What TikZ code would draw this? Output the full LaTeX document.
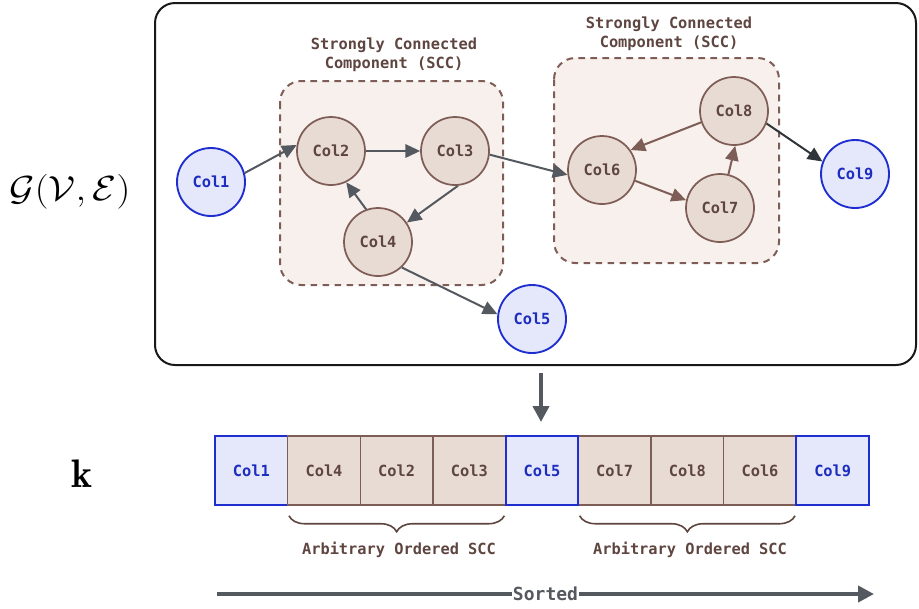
\documentclass[tikz,border=0pt]{standalone}
\usepackage{fontspec}
\setmonofont{DejaVu Sans Mono}
\usetikzlibrary{arrows.meta,decorations.pathreplacing,calc}
\definecolor{brownline}{HTML}{7D5D55}
\definecolor{browntext}{HTML}{5E4540}
\definecolor{nodefill}{HTML}{E8DBD4}
\definecolor{sccfill}{HTML}{F8F0EC}
\definecolor{blueline}{HTML}{1F2FCF}
\definecolor{bluefill}{HTML}{E5E7FB}
\definecolor{bluetext}{HTML}{1C2DC0}
\definecolor{grayarrow}{HTML}{545960}
\definecolor{darkarrow}{HTML}{30353B}
\tikzset{
  txt/.style={font=\ttfamily\bfseries\fontsize{11.5}{14}\selectfont},
  colnode/.style={circle, draw=brownline, fill=nodefill, line width=1.3pt, minimum size=51pt, inner sep=0pt, txt, text=browntext},
  bluenode/.style={circle, draw=blueline, fill=bluefill, line width=1.4pt, minimum size=51pt, inner sep=0pt, txt, text=bluetext},
  sccbox/.style={draw=brownline, fill=sccfill, dashed, dash pattern=on 5pt off 4pt, line width=1.5pt, rounded corners=16pt},
  scclabel/.style={txt, text=browntext, align=center},
  edge/.style={line width=1.5pt, -{Triangle[length=11pt,width=10pt]}},
  grayedge/.style={edge, draw=grayarrow},
  brownedge/.style={edge, draw=brownline},
  darkedge/.style={edge, draw=darkarrow},
  cellb/.style={rectangle, draw=brownline, fill=nodefill, line width=1.1pt, minimum width=54.5pt, minimum height=51.75pt, inner sep=0pt, txt, text=browntext},
  cellblue/.style={rectangle, draw=blueline, fill=bluefill, line width=1.5pt, minimum width=54.5pt, minimum height=51.75pt, inner sep=0pt, txt, text=bluetext},
  bracestyle/.style={draw=browntext, line width=1.2pt, decorate, decoration={brace, mirror, amplitude=12pt}},
  bigarrow/.style={draw=grayarrow, line width=3pt, -{Triangle[length=12pt,width=12pt]}},
}
\begin{document}
\begin{tikzpicture}[x=0.75pt, y=-0.75pt]
\useasboundingbox (0,0) rectangle (919,608);
% frame
\draw[draw=black!90, line width=1.5pt, rounded corners=15pt] (155,3) rectangle (916,365);
\node (glabel) at (70,192) {\scalebox{1.17}[1.05]{\fontsize{24.88}{28}\selectfont $\mathcal{G}(\mathcal{V},\mathcal{E})$}};
\node (klabel) at (82,474) {\scalebox{1.2}{\fontsize{24.88}{28}\selectfont $\mathbf{k}$}};
% SCC boxes
\draw[sccbox] (280,81) rectangle (503,285);
\draw[sccbox] (554,58) rectangle (779,263);
\node[scclabel] (scc1) at (394,55) {Strongly Connected\\Component (SCC)};
\node[scclabel] (scc2) at (669,34) {Strongly Connected\\Component (SCC)};
% nodes
\node[bluenode] (c1) at (211,182) {Col1};
\node[colnode] (c2) at (331,151) {Col2};
\node[colnode] (c3) at (455,151) {Col3};
\node[colnode] (c4) at (378,242) {Col4};
\node[bluenode] (c5) at (532,319) {Col5};
\node[colnode] (c6) at (602,170) {Col6};
\node[colnode] (c7) at (720,208) {Col7};
\node[colnode] (c8) at (734,111) {Col8};
\node[bluenode] (c9) at (855,174) {Col9};
% edges
\draw[grayedge] (c1.15) -- (c2.170);
\draw[grayedge] (c2) -- (c3);
\draw[grayedge] (c3.-85) -- (c4.34);
\draw[grayedge] (c4.110) -- (c2.-64);
\draw[grayedge] (c3.-6) -- (c6.188);
\draw[grayedge] (c4.-47) -- (c5.172);
\draw[brownedge] (c8.199) -- (c6.35);
\draw[brownedge] (c6.-18) -- (c7.167);
\draw[brownedge] (c7.76) -- (c8.-88);
\draw[darkedge] (c8.-21) -- (c9.159);
% down arrow
\coordinate (dstart) at (541,373);
\coordinate (dend) at (541,422);
\draw[bigarrow] (dstart) -- (dend);
% array
\node[cellblue] (a1) at (251.3,470.5) {Col1};
\node[cellb] (a2) at (324.0,470.5) {Col4};
\node[cellb] (a3) at (396.7,470.5) {Col2};
\node[cellb] (a4) at (469.3,470.5) {Col3};
\node[cellb] (a6) at (614.7,470.5) {Col7};
\node[cellb] (a7) at (687.3,470.5) {Col8};
\node[cellb] (a8) at (760.0,470.5) {Col6};
\node[cellblue] (a5) at (542.0,470.5) {Col5};
\node[cellblue] (a9) at (832.7,470.5) {Col9};
% braces
\draw[bracestyle] ($(a2.south west)+(2,10)$) -- ($(a4.south east)+(-2,10)$) coordinate[midway] (b1);
\draw[bracestyle] ($(a6.south west)+(2,10)$) -- ($(a8.south east)+(-2,10)$) coordinate[midway] (b2);
\node[txt, text=browntext] (arb1) at (399,550) {Arbitrary Ordered SCC};
\node[txt, text=browntext] (arb2) at (690,550) {Arbitrary Ordered SCC};
% sorted arrow
\coordinate (sstart) at (217,594);
\coordinate (send) at (874,594);
\draw[bigarrow] (sstart) -- (send) node[pos=0.5, fill=white, inner sep=1pt, font=\ttfamily\bfseries\fontsize{13.5}{16}\selectfont, text=grayarrow] (sorted) {Sorted};
\end{tikzpicture}
\end{document}
